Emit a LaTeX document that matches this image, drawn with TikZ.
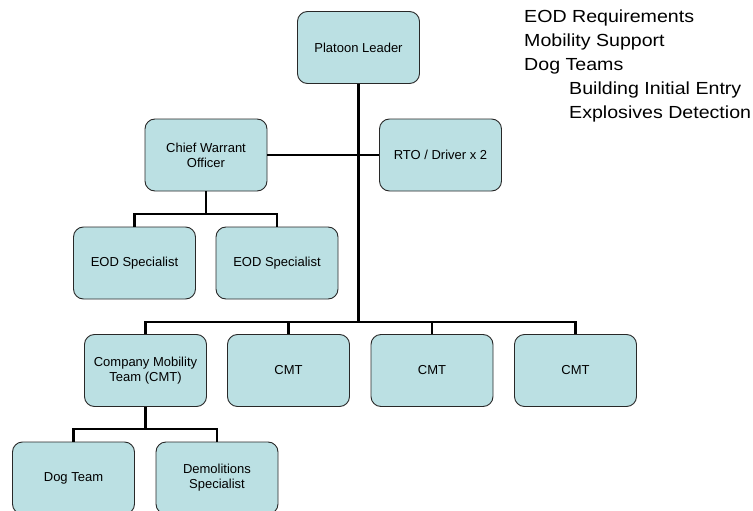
\documentclass[tikz,border=0pt]{standalone}
\usepackage{fontspec}
\setmainfont{Liberation Sans}
\newfontfamily\notefont{Liberation Sans}[FakeStretch=1.12]
\usepackage{tikz}
\definecolor{boxfill}{RGB}{187,224,227}
\definecolor{boxline}{RGB}{40,40,40}
\tikzset{
  unit/.style = {rectangle, rounded corners=10pt, draw=boxline, fill=boxfill, line width=0.9pt, align=center, minimum width=122pt, minimum height=72pt, inner sep=2pt, font=\fontsize{13}{15}\selectfont},
  link/.style = {line width=2.4pt, black},
  notes/.style = {anchor=north west, align=left, inner sep=0pt, font=\notefont\fontsize{17.5}{24}\selectfont}
}

\begin{document}
\begin{tikzpicture}[x=1pt, y=-1pt]
    \useasboundingbox (0,0) rectangle (753,511);
    % command
    \node[unit] (pl)  at (358.5,47.5) {Platoon Leader};
    \node[unit] (cwo) at (206,155)    {Chief Warrant\\Officer};
    \node[unit] (rto) at (440.5,155)  {RTO / Driver x 2};
    \node[unit] (eod1) at (134.5,263) {EOD Specialist};
    \node[unit] (eod2) at (277,263)   {EOD Specialist};
    % mobility teams
    \node[unit] (cmt1) at (145.5,370.5) {Company Mobility\\Team (CMT)};
    \node[unit] (cmt2) at (288.5,370.5) {CMT};
    \node[unit] (cmt3) at (432,370.5)   {CMT};
    \node[unit] (cmt4) at (575.5,370.5) {CMT};
    \node[unit] (dog)  at (73.5,478)    {Dog Team};
    \node[unit] (demo) at (217,478)     {Demolitions\\Specialist};
    % buses
    \coordinate (bus) at (358.5,322);
    \coordinate (eodbus) at (206,214);
    \coordinate (cmtbus) at (145.5,429);
    \draw[link] (pl.south) -- (bus);
    \draw[link] (cwo.east) -- (rto.west);
    \draw[link] (cwo.south) -- (eodbus);
    \draw[link] (eod1.north) |- (eodbus) -| (eod2.north);
    \draw[link] (cmt1.north) |- (bus) -| (cmt4.north);
    \draw[link] (cmt2.north) -- (cmt2.north |- bus);
    \draw[link] (cmt3.north) -- (cmt3.north |- bus);
    \draw[link] (cmt1.south) -- (cmtbus);
    \draw[link] (dog.north) |- (cmtbus) -| (demo.north);
    % tasks
    \node[notes] (tasks) at (524,10) {EOD Requirements\\Mobility Support\\Dog Teams\\
      \hspace*{45pt}Building Initial Entry\\\hspace*{45pt}Explosives Detection};
\end{tikzpicture}
\end{document}
